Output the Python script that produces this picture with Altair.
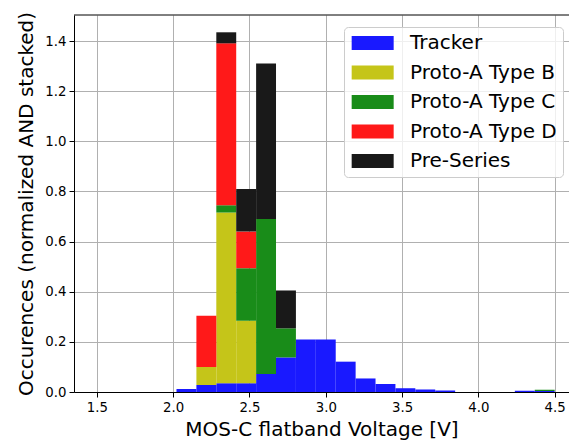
import altair as alt
import numpy as np
import pandas as pd

# Histogram binning: 23 bins from 1.5 V to 4.5 V
bin_lo, bin_hi, n_bins = 1.5, 4.5, 23

series_names = ["Tracker", "Proto-A Type B", "Proto-A Type C", "Proto-A Type D", "Pre-Series"]
series_colors = ["#1919ff", "#c5c519", "#198c19", "#ff1919", "#191919"]

# normalized occurrences per bin (23 bins)
tracker = [0, 0, 0, 0, 0.012, 0.028, 0.035, 0.035, 0.072, 0.138, 0.209, 0.209, 0.121,
           0.054, 0.032, 0.015, 0.010, 0.006, 0, 0, 0, 0.005, 0.004]
type_b = [0, 0, 0, 0, 0, 0.072, 0.681, 0.249, 0, 0, 0, 0, 0,
          0, 0, 0, 0, 0, 0, 0, 0, 0, 0]
type_c = [0, 0, 0, 0, 0, 0, 0.029, 0.210, 0.618, 0.116, 0, 0, 0,
          0, 0, 0, 0, 0, 0, 0, 0, 0, 0.005]
type_d = [0, 0, 0, 0, 0, 0.204, 0.646, 0.146, 0, 0, 0, 0, 0,
          0, 0, 0, 0, 0, 0, 0, 0, 0, 0]
pre_series = [0, 0, 0, 0, 0, 0, 0.044, 0.170, 0.621, 0.151, 0, 0, 0,
              0, 0, 0, 0, 0, 0, 0, 0, 0, 0]

x_ticks = [1.5, 2.0, 2.5, 3.0, 3.5, 4.0, 4.5]
y_ticks = [0.0, 0.2, 0.4, 0.6, 0.8, 1.0, 1.2, 1.4]

edges = np.linspace(bin_lo, bin_hi, n_bins + 1)
vals = np.array([tracker, type_b, type_c, type_d, pre_series])
tops = np.cumsum(vals, axis=0)
bottoms = tops - vals

rows = []
for s, name in enumerate(series_names):
    for b in range(n_bins):
        if vals[s, b] > 0:
            rows.append({"series": name, "order": s,
                         "x0": edges[b], "x1": edges[b + 1],
                         "y0": bottoms[s, b], "y1": tops[s, b]})
df = pd.DataFrame(rows)

bars = alt.Chart(df).mark_rect(strokeWidth=0).encode(
    x=alt.X("x0:Q",
            scale=alt.Scale(domain=[1.35, 4.594], nice=False, zero=False),
            axis=alt.Axis(values=x_ticks, format=".1f", title="MOS-C flatband Voltage [V]",
                          titlePadding=6)),
    x2="x1:Q",
    y=alt.Y("y0:Q",
            scale=alt.Scale(domain=[0, 1.504], nice=False),
            axis=alt.Axis(values=y_ticks, format=".1f",
                          title="Occurences (normalized AND stacked)", titlePadding=8)),
    y2="y1:Q",
    color=alt.Color("series:N",
                    scale=alt.Scale(domain=series_names, range=series_colors),
                    legend=alt.Legend(title=None, orient="none", legendX=270, legendY=12,
                                      symbolType="M-1.19,-1H4.81V1H-1.19Z", symbolSize=196,
                                      symbolStrokeWidth=0, symbolOpacity=1,
                                      labelFontSize=20, labelFont="DejaVu Sans",
                                      labelColor="black", labelOffset=40,
                                      rowPadding=9.5, padding=6,
                                      fillColor="rgba(255,255,255,0.8)",
                                      strokeColor="#cccccc", cornerRadius=4, zindex=2)),
)

top_spine = alt.Chart(pd.DataFrame({"a": [0]})).mark_rule(color="black", strokeWidth=1).encode(
    y=alt.value(0), x=alt.value(0), x2=alt.value(495)
)

chart = alt.layer(bars, top_spine).properties(
    width=495, height=377,
    autosize=alt.AutoSizeParams(type="none"),
    padding={"left": 74, "top": 15, "right": 0, "bottom": 51},
).configure_view(stroke=None).configure_axis(
    labelFont="DejaVu Sans", titleFont="DejaVu Sans",
    labelFontSize=13.3, titleFontSize=20, titleFontWeight="normal",
    labelColor="black", titleColor="black",
    tickColor="black", domainColor="black", tickSize=5, labelPadding=3,
    gridColor="#b0b0b0", gridWidth=1, zindex=1,
)

chart.save("out.html", embed_options={"renderer": "svg", "actions": False})
